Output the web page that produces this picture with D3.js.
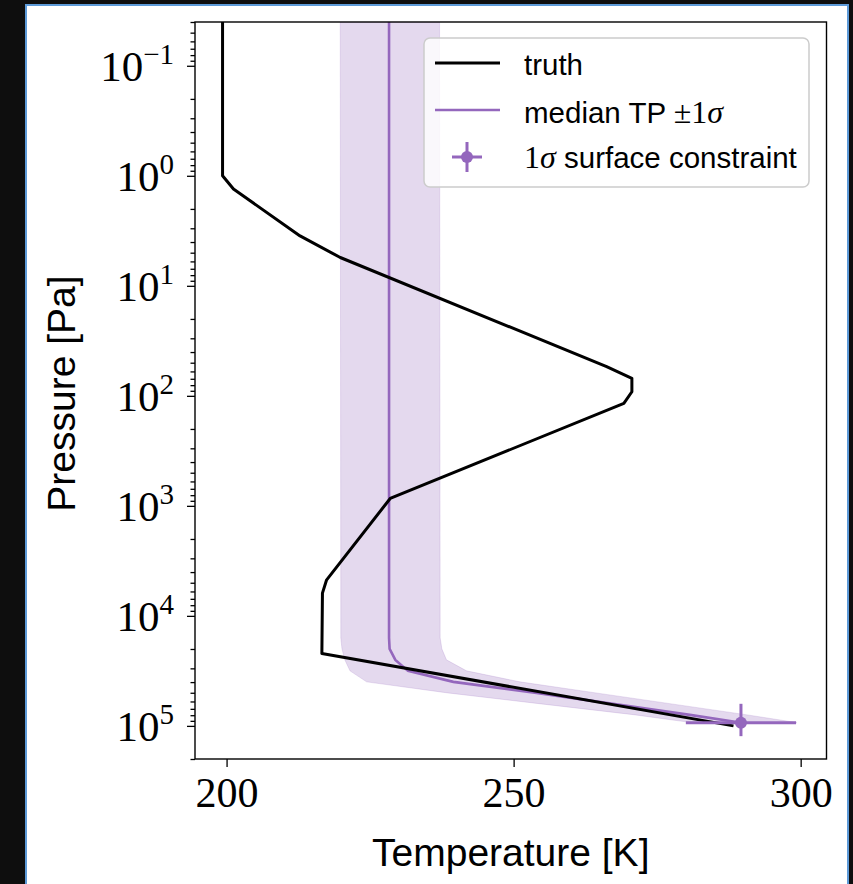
<!DOCTYPE html>
<html>
<head>
<meta charset="utf-8">
<script src="https://cdn.jsdelivr.net/npm/d3@7"></script>
<style>
    html, body { margin: 0; padding: 0; background: #0e0e0e; }
    svg { display: block; }
</style>
</head>
<body>
<div class="tp-profile"></div>
<script>
// truth temperature profile (Pa, K)
var truthP = [0.04, 1, 1.32, 3.52, 5.53, 54.3, 69.3, 91.8, 117, 857, 4740, 6220, 22030, 1e5];
var truthT = [199.3, 199.3, 201.2, 212.8, 219.8, 266.2, 270.6, 270.6, 269.2, 228.5, 217.4, 216.7, 216.6, 288.3];

// retrieved profile: median and 1 sigma envelope
var profP = [0.04, 15850, 19950, 25120, 31620, 39810, 50120, 63100, 79430, 93330];
var medianT = [228.3, 228.3, 228.4, 229.4, 231.6, 239.5, 254.0, 267.3, 280.7, 289.4];
var lowerT = [219.8, 219.9, 220.1, 220.6, 221.5, 224.4, 238.5, 254.8, 271.2, 281.0];
var upperT = [237.1, 237.2, 237.5, 238.3, 241.8, 251.1, 264.3, 277.5, 290.7, 299.3];

// surface constraint with 1 sigma errors
var surfT = 289.6, surfTErr = 9.6;
var surfP = 93500, surfPErr = 30500;

var xTicks = [200, 250, 300];
var yExps = [-1, 0, 1, 2, 3, 4, 5];

(function() {
    var purple = "#9467bd";
    var serif = "'Liberation Serif', 'Times New Roman', serif";
    var sans = "'Liberation Sans', Arial, sans-serif";

    var W = 853, H = 884;
    var plot = {left: 195, top: 22, right: 826.5, bottom: 759};

    var x = d3.scaleLinear().domain([194.5, 304.5]).range([plot.left, plot.right]);
    var y = d3.scaleLog().domain([0.04, 2e5]).range([plot.top, plot.bottom]);

    var svg = d3.select(".tp-profile").append("svg")
        .attr("width", W)
        .attr("height", H);

    // page frame
    svg.append("rect")
        .attr("x", 26).attr("y", 5)
        .attr("width", 822).attr("height", H)
        .style("fill", "#fff")
        .style("stroke", "#5d9ad8")
        .style("stroke-width", 2);

    svg.append("clipPath").attr("id", "plot-clip")
        .append("rect")
            .attr("x", plot.left).attr("y", plot.top)
            .attr("width", plot.right - plot.left)
            .attr("height", plot.bottom - plot.top);

    var body = svg.append("g").attr("clip-path", "url(#plot-clip)");

    var profile = profP.map(function(p, i) {
        return {p: p, med: medianT[i], lo: lowerT[i], hi: upperT[i]};
    });
    var truth = truthP.map(function(p, i) { return {p: p, t: truthT[i]}; });

    var band = d3.area()
        .y(function(d) { return y(d.p); })
        .x0(function(d) { return x(d.lo); })
        .x1(function(d) { return x(d.hi); });

    body.append("path")
        .datum(profile)
        .attr("d", band)
        .style("fill", purple)
        .style("fill-opacity", 0.25)
        .style("stroke", purple)
        .style("stroke-opacity", 0.2)
        .style("stroke-width", 1);

    body.append("path")
        .datum(profile)
        .attr("d", d3.line()
            .x(function(d) { return x(d.med); })
            .y(function(d) { return y(d.p); }))
        .style("fill", "none")
        .style("stroke", purple)
        .style("stroke-width", 2.6);

    body.append("path")
        .datum(truth)
        .attr("d", d3.line()
            .x(function(d) { return x(d.t); })
            .y(function(d) { return y(d.p); }))
        .style("fill", "none")
        .style("stroke", "#000")
        .style("stroke-width", 3)
        .style("stroke-linejoin", "round");

    // surface point with error bars
    var eb = body.append("g").style("stroke", purple).style("stroke-width", 3);
    eb.append("line")
        .attr("x1", x(surfT - surfTErr)).attr("x2", x(surfT + surfTErr))
        .attr("y1", y(surfP)).attr("y2", y(surfP));
    eb.append("line")
        .attr("x1", x(surfT)).attr("x2", x(surfT))
        .attr("y1", y(surfP - surfPErr)).attr("y2", y(surfP + surfPErr));
    body.append("circle")
        .attr("cx", x(surfT)).attr("cy", y(surfP)).attr("r", 6)
        .style("fill", purple);

    // axes
    var xAxis = svg.append("g")
        .attr("transform", "translate(0," + plot.bottom + ")")
        .call(d3.axisBottom(x).tickValues(xTicks).tickSize(8).tickFormat(d3.format("d")));
    xAxis.selectAll("text")
        .attr("y", 48).attr("dy", 0)
        .style("font-family", serif)
        .style("font-size", "42px")
        .style("fill", "#000");

    var majors = yExps.map(function(e) { return Math.pow(10, e); });
    var minors = [];
    d3.range(-2, 6).forEach(function(e) {
        d3.range(2, 10).forEach(function(k) {
            var v = k * Math.pow(10, e);
            if (v >= y.domain()[0] && v <= y.domain()[1]) minors.push(v);
        });
    });

    svg.append("g")
        .attr("transform", "translate(" + plot.left + ",0)")
        .call(d3.axisLeft(y).tickValues(minors).tickSize(4.5).tickFormat(""));

    var yAxis = svg.append("g")
        .attr("transform", "translate(" + plot.left + ",0)")
        .call(d3.axisLeft(y).tickValues(majors).tickSize(8).tickFormat(""));

    svg.selectAll(".domain").remove();
    svg.selectAll(".tick line").style("stroke", "#000").style("stroke-width", 1.3);

    yAxis.selectAll(".tick").each(function(d) {
        var t = d3.select(this).append("text")
            .attr("x", -21)
            .attr("y", 15)
            .attr("dy", 0)
            .style("text-anchor", "end")
            .style("font-family", serif)
            .style("font-size", "43px")
            .style("fill", "#000");
        t.append("tspan").text("10");
        var e = Math.round(Math.log10(d));
        t.append("tspan")
            .attr("dy", -17)
            .style("font-size", "29px")
            .text(e < 0 ? "\u2212" + (-e) : e);
    });

    // plot frame
    svg.append("rect")
        .attr("x", plot.left).attr("y", plot.top)
        .attr("width", plot.right - plot.left)
        .attr("height", plot.bottom - plot.top)
        .style("fill", "none")
        .style("stroke", "#000")
        .style("stroke-width", 1.4);

    // axis labels
    svg.append("text")
        .attr("x", (plot.left + plot.right) / 2)
        .attr("y", 866)
        .style("text-anchor", "middle")
        .style("font-family", sans)
        .style("font-size", "39px")
        .text("Temperature [K]");

    svg.append("text")
        .attr("transform", "translate(75," + ((plot.top + plot.bottom) / 2 + 3) + ") rotate(-90)")
        .style("text-anchor", "middle")
        .style("font-family", sans)
        .style("font-size", "39px")
        .text("Pressure [Pa]");

    // legend
    var legend = svg.append("g").attr("transform", "translate(424,38)");
    legend.append("rect")
        .attr("width", 385).attr("height", 149)
        .attr("rx", 6).attr("ry", 6)
        .style("fill", "#fff").style("fill-opacity", 0.8)
        .style("stroke", "#ccc").style("stroke-width", 1.5);

    legend.append("line")
        .attr("x1", 11).attr("x2", 76).attr("y1", 25).attr("y2", 25)
        .style("stroke", "#000").style("stroke-width", 3);
    legend.append("line")
        .attr("x1", 11).attr("x2", 76).attr("y1", 72).attr("y2", 72)
        .style("stroke", purple).style("stroke-width", 2.6);

    var handle = legend.append("g").attr("transform", "translate(43,119)");
    handle.append("line").attr("x1", -15).attr("x2", 15)
        .style("stroke", purple).style("stroke-width", 3);
    handle.append("line").attr("y1", -15).attr("y2", 15)
        .style("stroke", purple).style("stroke-width", 3);
    handle.append("circle").attr("r", 6).style("fill", purple);

    function legendText(yPos) {
        return legend.append("text")
            .attr("x", 100).attr("y", yPos)
            .style("font-family", sans)
            .style("font-size", "29.5px")
            .style("fill", "#000");
    }

    legendText(37).text("truth");
    var t2 = legendText(85);
    t2.append("tspan").text("median TP ");
    t2.append("tspan").style("font-family", serif).style("font-size", "32px").text("\u00b11");
    t2.append("tspan").style("font-family", serif).style("font-size", "32px").style("font-style", "italic").text("\u03c3");
    var t3 = legendText(130);
    t3.append("tspan").style("font-family", serif).style("font-size", "32px").text("1");
    t3.append("tspan").style("font-family", serif).style("font-size", "32px").style("font-style", "italic").text("\u03c3");
    t3.append("tspan").text(" surface constraint");
})();
</script>
</body>
</html>
